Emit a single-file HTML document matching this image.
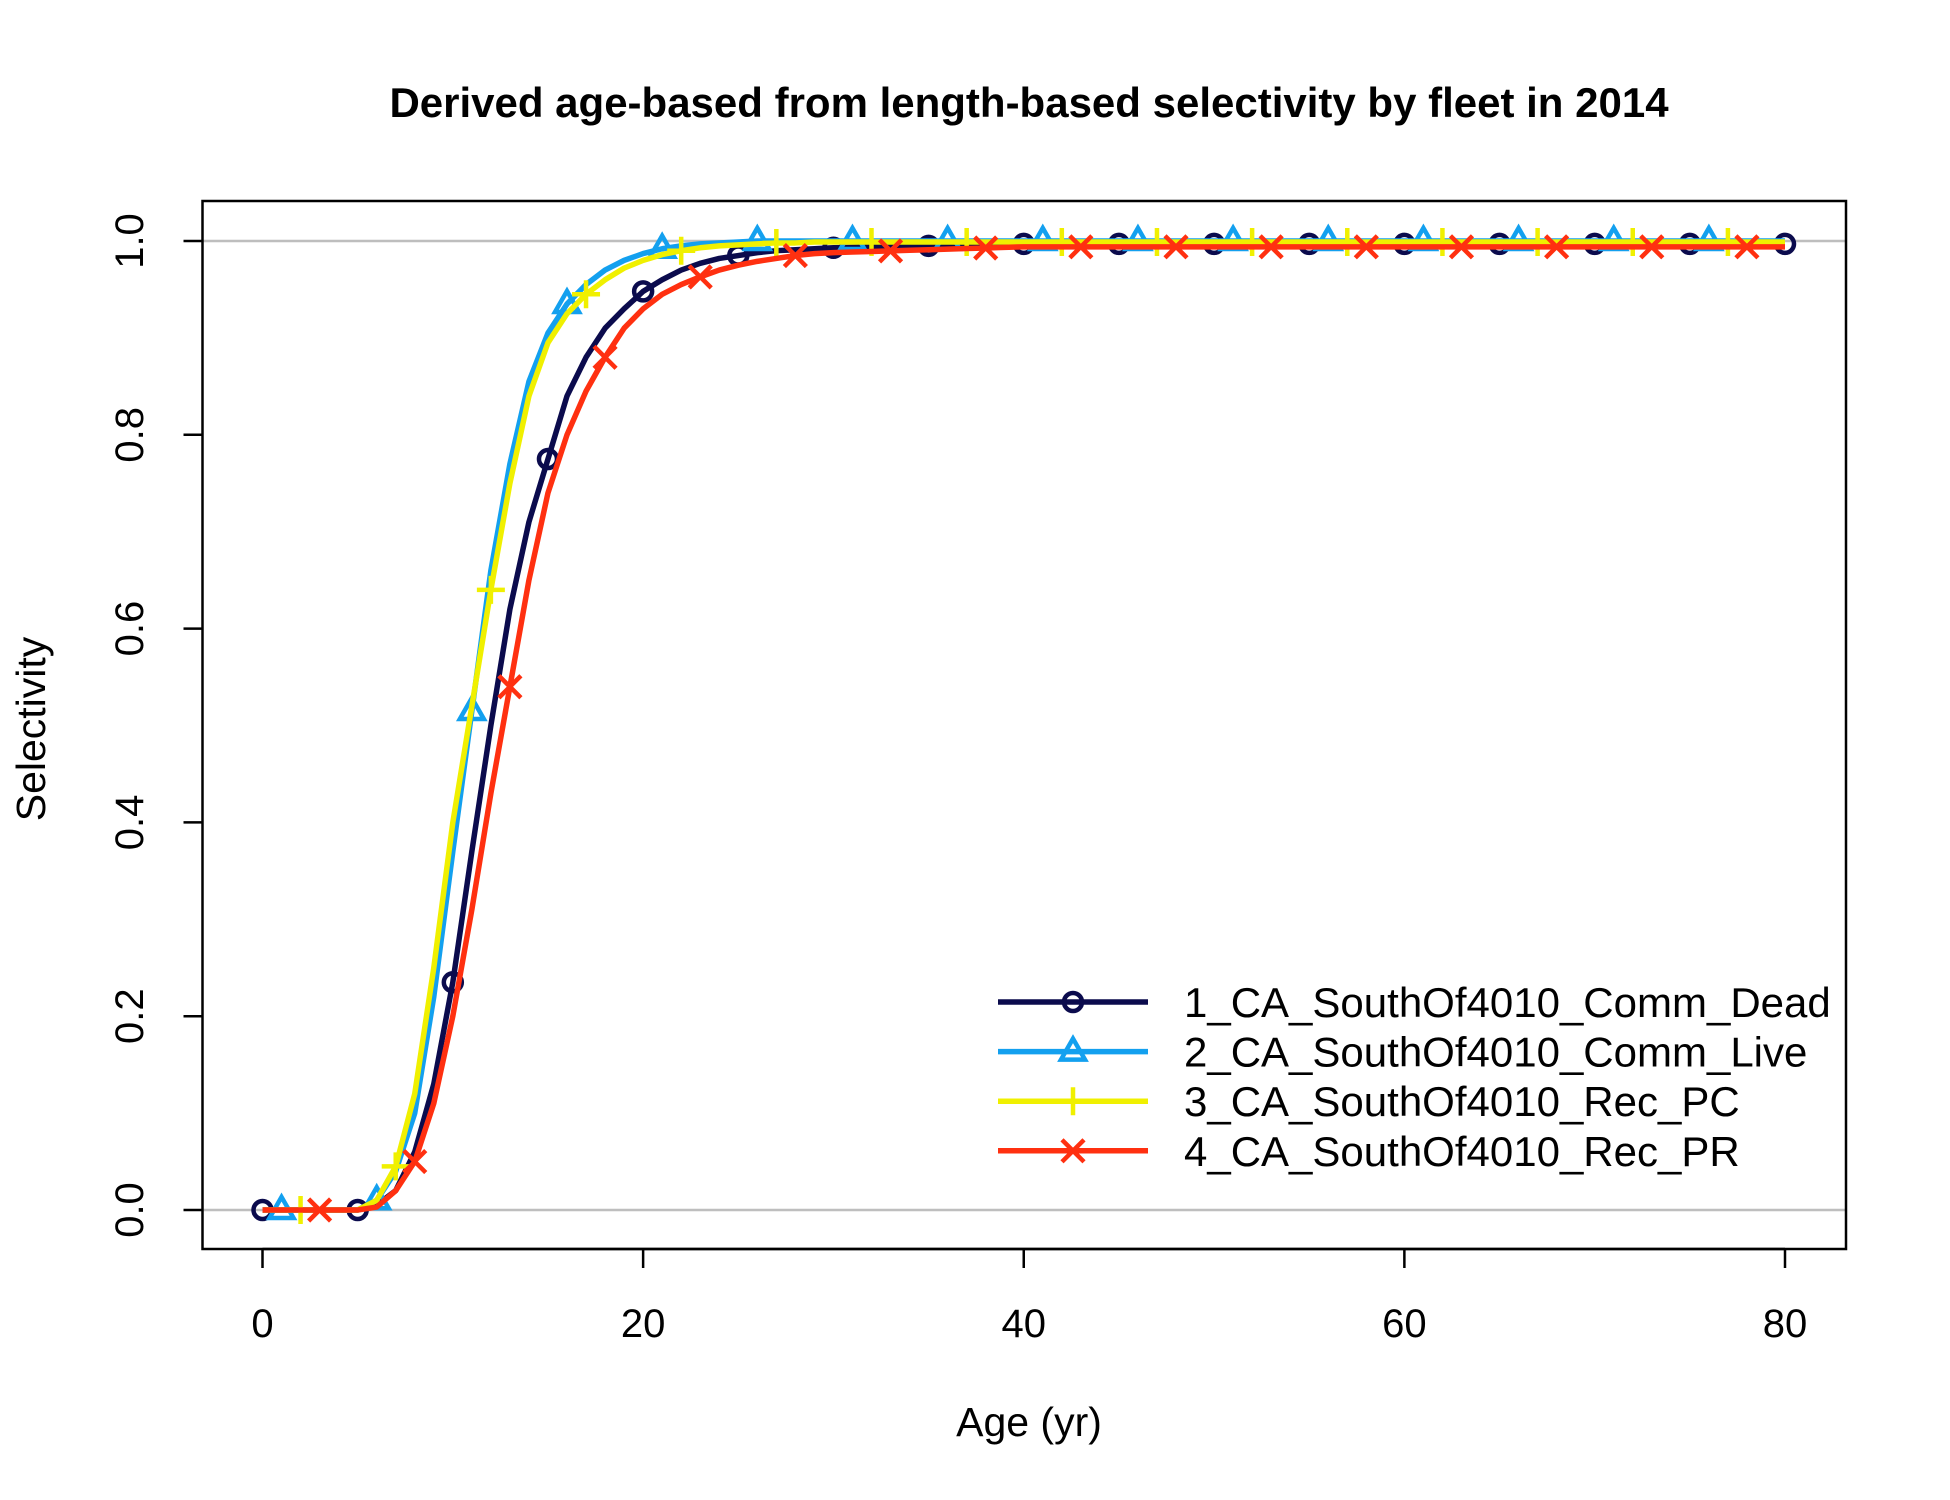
<!DOCTYPE html>
<html><head><meta charset="utf-8"><style>
html,body{margin:0;padding:0;background:#fff;}
svg{display:block;font-family:"Liberation Sans",Arial,sans-serif;}
</style></head><body>
<svg id="chart" width="1950" height="1500" viewBox="0 0 1950 1500">
<text x="1029" y="117" text-anchor="middle" font-size="42" font-weight="bold">Derived age-based from length-based selectivity by fleet in 2014</text>
<text x="1029" y="1436" text-anchor="middle" font-size="41">Age (yr)</text>
<text transform="translate(45,729) rotate(-90)" text-anchor="middle" font-size="41">Selectivity</text>
<g id="grid"></g><g id="series"></g><g id="axes"></g><g id="legend"></g>
</svg>
<script>
const ages = [];
for (let a = 0; a <= 80; a++) ages.push(a);
const xTicks = [0, 20, 40, 60, 80];
const yTicks = [0, 0.2, 0.4, 0.6, 0.8, 1.0];
const yTickLabels = ["0.0", "0.2", "0.4", "0.6", "0.8", "1.0"];
const seriesNames = ["1_CA_SouthOf4010_Comm_Dead", "2_CA_SouthOf4010_Comm_Live", "3_CA_SouthOf4010_Rec_PC", "4_CA_SouthOf4010_Rec_PR"];
const seriesColors = ["#0b0b4d", "#13a0ef", "#f0f000", "#ff3010"];
const s1Head = [0,0,0,0,0,0,0.005,0.02,0.06,0.13,0.235,0.37,0.5,0.62,0.71,0.775,0.84,0.88,0.91,0.93,0.948,0.96,0.97,0.977,0.982,0.985,0.988,0.99,0.991,0.992,0.993];
const s2Head = [0,0,0,0,0,0,0.01,0.04,0.1,0.22,0.37,0.515,0.66,0.77,0.855,0.905,0.935,0.955,0.97,0.98,0.987,0.992,0.995,0.997,0.998,0.999,1,1,1,1,1];
const s3Head = [0,0,0,0,0,0,0.01,0.045,0.12,0.25,0.4,0.52,0.64,0.75,0.84,0.895,0.925,0.945,0.96,0.972,0.98,0.986,0.99,0.993,0.995,0.996,0.997,0.998,0.998,0.999,0.999];
const s4Head = [0,0,0,0,0,0,0.003,0.02,0.05,0.11,0.2,0.31,0.43,0.54,0.65,0.74,0.8,0.845,0.88,0.91,0.93,0.945,0.955,0.963,0.97,0.975,0.979,0.982,0.985,0.987,0.988];
const plateau = [0.997, 1.0, 0.999, 0.994];
const markerOffsets = [0, 1, 2, 3];

function fill(head, p){const out=head.slice();for(let a=31;a<=80;a++){out.push(a<40?head[30]+(p-head[30])*Math.min(1,(a-30)/10):p);}return out;}
const seriesValues = [fill(s1Head,plateau[0]), fill(s2Head,plateau[1]), fill(s3Head,plateau[2]), fill(s4Head,plateau[3])];

const X0=202.5,X1=1846,Y0=201,Y1=1249;
const xs = v => 262.5 + v*(1785-262.5)/80;
const ys = v => 1210 - v*(1210-241);
const NS="http://www.w3.org/2000/svg";
function mk(tag, attrs, parent){const e=document.createElementNS(NS,tag);for(const k in attrs)e.setAttribute(k,attrs[k]);parent.appendChild(e);return e;}
const grid=document.getElementById('grid'), axes=document.getElementById('axes'), ser=document.getElementById('series'), leg=document.getElementById('legend');

[0,1].forEach(v=>{
  const l=mk('line',{x1:X0,x2:X1,y1:ys(v),y2:ys(v),stroke:'#bebebe','stroke-width':2.5},grid);
  
  
});
const box=mk('rect',{x:X0,y:Y0,width:X1-X0,height:Y1-Y0,fill:'none',stroke:'#000','stroke-width':2.5},axes);


xTicks.forEach(t=>{
  const l=mk('line',{x1:xs(t),x2:xs(t),y1:Y1,y2:Y1+19,stroke:'#000','stroke-width':2.5},axes);
  
  
  const tx=mk('text',{x:xs(t),y:1337,'text-anchor':'middle','font-size':40},axes);
  tx.textContent=t;
  
  
});
mk('line',{x1:xs(0),x2:xs(80),y1:Y1,y2:Y1,stroke:'#000','stroke-width':2.5},axes);
yTicks.forEach((t,i)=>{
  const l=mk('line',{x1:X0-19,x2:X0,y1:ys(t),y2:ys(t),stroke:'#000','stroke-width':2.5},axes);
  
  
  const tx=mk('text',{transform:`translate(143,${ys(t)}) rotate(-90)`,'text-anchor':'middle','font-size':40},axes);
  tx.textContent=yTickLabels[i];
  
  
});

function marker(type,x,y,c,parent){
  const sw=4.5;let e;
  if(type===0)e=mk('circle',{cx:x,cy:y,r:9,fill:'none',stroke:c,'stroke-width':sw},parent);
  else if(type===1)e=mk('polygon',{points:`${x},${y-13} ${x-12},${y+8} ${x+12},${y+8}`,fill:'none',stroke:c,'stroke-width':sw},parent);
  else if(type===2)e=mk('path',{d:`M${x-14},${y}H${x+14}M${x},${y-14}V${y+14}`,stroke:c,'stroke-width':sw},parent);
  else e=mk('path',{d:`M${x-11},${y-11}L${x+11},${y+11}M${x-11},${y+11}L${x+11},${y-11}`,stroke:c,'stroke-width':sw},parent);
  return e;
}
seriesValues.forEach((vals,si)=>{
  const g=mk('g',{},ser);
  
  
  const p=mk('polyline',{points:ages.map((a,i)=>xs(a)+','+ys(vals[i])).join(' '),fill:'none',stroke:seriesColors[si],'stroke-width':5.5,'stroke-linejoin':'round'},g);
  
  
  for(let a=markerOffsets[si];a<=80;a+=5){
    const m=marker(si,xs(a),ys(vals[a]),seriesColors[si],g);
    
    
  }
});
seriesNames.forEach((n,i)=>{
  const y=1002+i*49.6;
  const g=mk('g',{},leg);
  
  
  mk('line',{x1:998,x2:1148,y1:y,y2:y,stroke:seriesColors[i],'stroke-width':5.5},g);
  marker(i,1073,y,seriesColors[i],g);
  const t=mk('text',{x:1184,y:y+15,'font-size':42},g);
  t.textContent=n;
});
</script>
</body></html>
